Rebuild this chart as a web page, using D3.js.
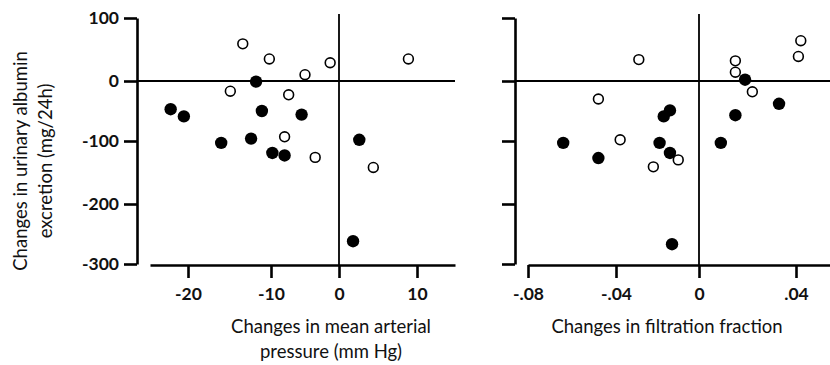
<!DOCTYPE html>
<html>
<head>
<meta charset="utf-8">
<script src="https://cdn.jsdelivr.net/npm/d3@7"></script>
<style>
body{margin:0;background:#fff;}
text{font-family:Lato,"Open Sans",sans-serif;fill:#111;}
</style>
</head>
<body>
<div id="canvas"></div>
<script>
// changes in urinary albumin excretion (mg/24h) vs changes in MAP (mm Hg)
var mapOpen = [[-13.4,59],[-10.2,35],[-1.3,29],[-5.0,10],[8.9,35],[-14.9,-17],[-7.4,-23],[-8.0,-93],[-3.5,-126],[4.4,-142]];
var mapFilled = [[-11.8,-1],[-22.1,-47],[-20.5,-59],[-11.1,-50],[-5.5,-56],[-16.0,-103],[-12.4,-96],[-9.8,-119],[-8.0,-123],[2.6,-98],[1.8,-262]];
// ... vs changes in filtration fraction
var ffOpen = [[-0.029,34],[0.015,32],[0.015,14],[0.042,64],[0.041,39],[0.022,-18],[-0.048,-30],[-0.038,-98],[-0.010,-130],[-0.022,-141]];
var ffFilled = [[0.019,2],[0.033,-38],[0.015,-57],[0.009,-103],[-0.014,-49],[-0.017,-59],[-0.064,-103],[-0.048,-127],[-0.019,-103],[-0.014,-119],[-0.013,-267]];

var yTicks = [100,0,-100,-200,-300];
var yLabels = ["100","0","-100","-200","-300"];
var mapTicks = [-20,-10,0,10];
var mapLabels = ["-20","-10","0","10"];
var ffTicks = [-0.08,-0.04,0,0.04];
var ffLabels = ["-.08","-.04","0",".04"];

var width = 830;
var height = 365;
var tickLen = 13;

var svg1 = d3.select("#canvas").append("svg")
	.attr("width",width)
	.attr("height",height);

// the original axes are hand drawn, so ticks are not evenly spaced
var y = d3.scaleLinear().domain(yTicks).range([18,81,141,204,264]);
var xMap = d3.scaleLinear().domain([-24.6,-20,-10,0,10,14.9]).range([150,188,271,339,417,455]);
var xFF = d3.scaleLinear().domain([-0.08,-0.04,0,0.04,0.055]).range([528,616,699,796,832]);

function panel(x, axisX, open, filled, ticks, labels, showY){
	var g = svg1.append('g');

	// zero lines
	g.append('line')
		.attr('x1',axisX).attr('x2',x.range()[x.range().length-1])
		.attr('y1',y(0)).attr('y2',y(0))
		.style('stroke','#000').style('stroke-width',1.8);
	g.append('line')
		.attr('x1',x(0)).attr('x2',x(0))
		.attr('y1',y(100)-4).attr('y2',y(-300)+1)
		.style('stroke','#000').style('stroke-width',1.8);

	var ya = d3.axisLeft(y).tickValues(yTicks).tickSize(tickLen).tickSizeOuter(0)
		.tickPadding(5)
		.tickFormat(function(d,i){return showY ? yLabels[i] : '';});
	var gy = g.append('g').attr('transform','translate('+axisX+',0)').call(ya);

	var xa = d3.axisBottom(x).tickValues(ticks).tickSize(tickLen).tickSizeOuter(0)
		.tickPadding(10)
		.tickFormat(function(d,i){return labels[i];});
	var gx = g.append('g').attr('transform','translate(0,'+(y(-300)+1)+')').call(xa);

	[gy,gx].forEach(function(a){
		a.selectAll('path,line').style('stroke','#000').style('stroke-width',2.6);
		a.selectAll('text').style('font-size','17.5px').style('font-weight','bold')
			.style('font-family','Lato, sans-serif').attr('fill','#111');
	});

	g.selectAll('circle.filled').data(filled).enter().append('circle')
		.attr('class','filled')
		.attr('cx',function(d){return x(d[0]);})
		.attr('cy',function(d){return y(d[1]);})
		.attr('r',6.2)
		.style('fill','#000');
	g.selectAll('circle.open').data(open).enter().append('circle')
		.attr('class','open')
		.attr('cx',function(d){return x(d[0]);})
		.attr('cy',function(d){return y(d[1]);})
		.attr('r',4.9)
		.style('fill','#fff')
		.style('stroke','#000')
		.style('stroke-width',1.6);
}

panel(xMap, 137, mapOpen, mapFilled, mapTicks, mapLabels, true);
panel(xFF, 515, ffOpen, ffFilled, ffTicks, ffLabels, false);

// axis titles
function title(x, yy, lines, rot){
	var t = svg1.append('text')
		.attr('text-anchor','middle')
		.style('font-size','18.5px')
		.attr('transform','translate('+x+','+yy+')'+(rot ? ' rotate(-90)' : ''));
	lines.forEach(function(s,i){
		t.append('tspan').attr('x',0).attr('y',i*25).text(s);
	});
}
title(331, 333, ["Changes in mean arterial","pressure (mm Hg)"], false);
title(667, 333, ["Changes in filtration fraction"], false);
title(27, 161, ["Changes in urinary albumin","excretion (mg/24h)"], true);
</script>
</body>
</html>
